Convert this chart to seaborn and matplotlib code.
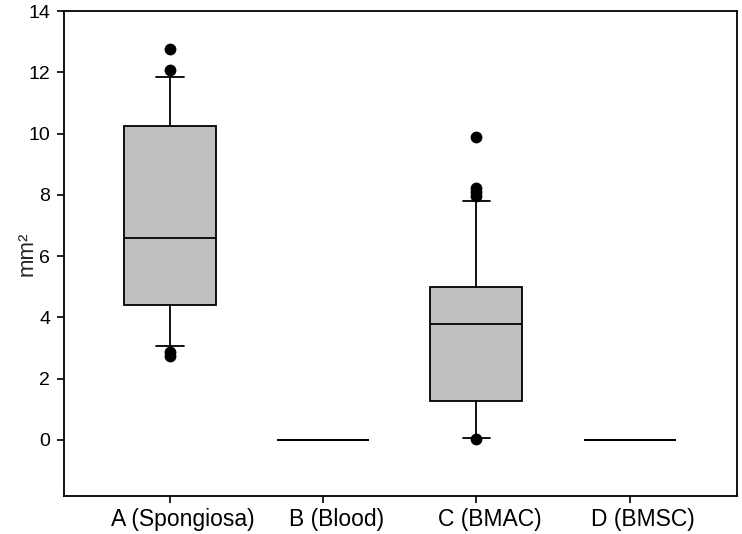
import pandas as pd
import matplotlib.pyplot as plt
import matplotlib.transforms as mtransforms
import seaborn as sns

# Values (five-number summary per group, whiskers at 10th/90th pct)
groups = ['A (Spongiosa)', 'B (Blood)', 'C (BMAC)', 'D (BMSC)']
whisker_low = [3.08, 0.0, 0.07, 0.0]
q1 = [4.40, 0.0, 1.27, 0.0]
median = [6.60, 0.0, 3.78, 0.0]
q3 = [10.25, 0.0, 5.00, 0.0]
whisker_high = [11.84, 0.0, 7.81, 0.0]

outlier_groups = ['A (Spongiosa)'] * 4 + ['C (BMAC)'] * 5
outlier_values = [12.75, 12.07, 2.86, 2.74, 9.88, 8.22, 8.10, 7.96, 0.02]


def main():
    sns.set_style("ticks")
    plt.rcParams['font.family'] = ['Liberation Sans', 'DejaVu Sans']

    # long-form table: each group's five numbers, drawn with whiskers at min/max
    rows = []
    for i, g in enumerate(groups):
        for v in (whisker_low[i], q1[i], median[i], q3[i], whisker_high[i]):
            rows.append({'group': g, 'value': v})
    df = pd.DataFrame(rows)
    out_df = pd.DataFrame({'group': outlier_groups, 'value': outlier_values})

    fig = plt.figure(figsize=(7.42, 5.34), dpi=100)
    ax = fig.add_axes([0.0863, 0.0712, 0.9070, 0.9082])

    sns.boxplot(ax=ax, data=df, x='group', y='value', order=groups,
                whis=(0, 100), width=0.6, color='#c0c0c0', saturation=1,
                linecolor='black', linewidth=1.3, capwidths=0.18)
    sns.stripplot(ax=ax, data=out_df, x='group', y='value', order=groups,
                  jitter=False, color='black', size=8.5, zorder=5)

    ax.set_xlim(-0.69, 3.7)
    ax.set_ylim(-1.83, 14)
    ax.set_yticks(range(0, 15, 2))
    ax.set_xlabel('')
    ax.set_ylabel('mm²', fontsize=16)
    ax.yaxis.set_label_coords(-0.040, 0.5)
    ax.tick_params(axis='both', length=5, width=1.2, colors='black')
    ax.tick_params(axis='x', labelsize=16.5, pad=4)
    ax.tick_params(axis='y', labelsize=14, pad=5)
    for side in ['top', 'right', 'bottom', 'left']:
        ax.spines[side].set_visible(True)
        ax.spines[side].set_linewidth(1.3)
        ax.spines[side].set_color('black')

    # category labels sit a little right of their ticks in the original
    shift = mtransforms.ScaledTranslation(0.13, 0, fig.dpi_scale_trans)
    for lbl in ax.get_xticklabels():
        lbl.set_transform(lbl.get_transform() + shift)

    plt.savefig('out.png', dpi=100)
    plt.close()


if __name__ == '__main__':
    main()
